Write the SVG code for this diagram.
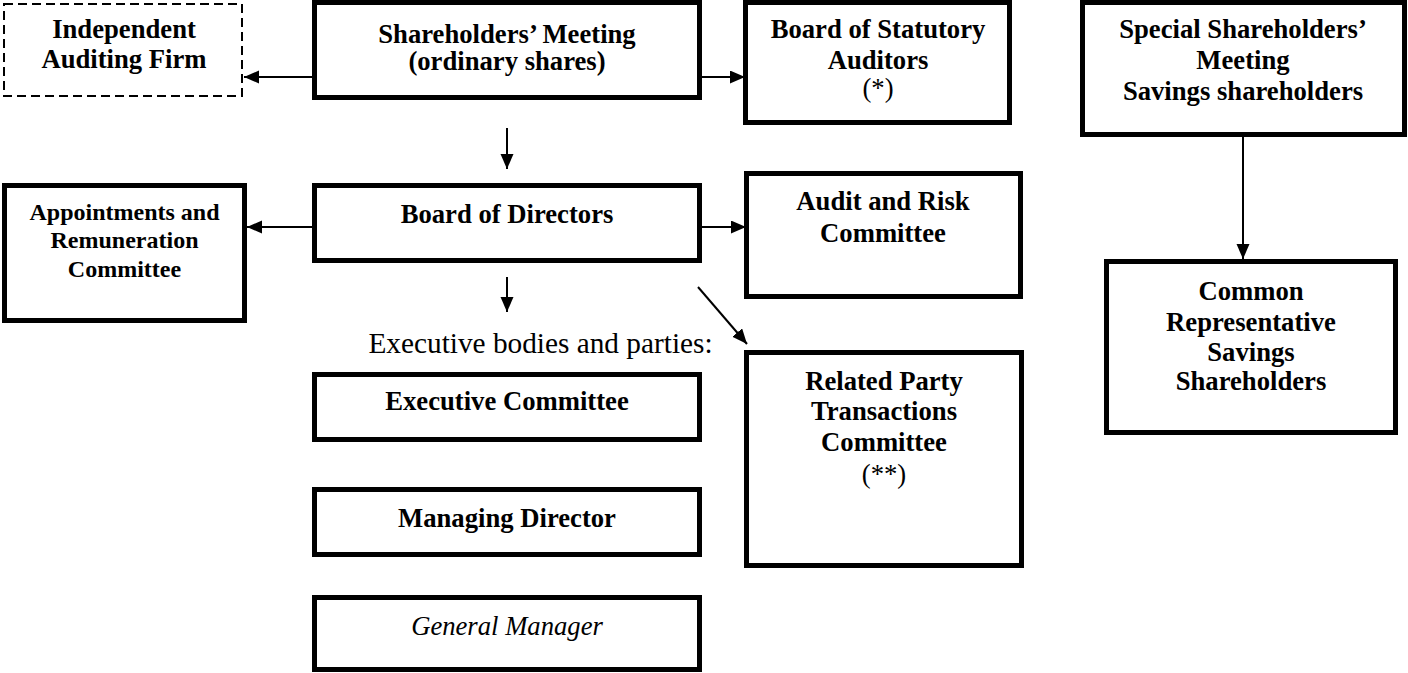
<svg xmlns="http://www.w3.org/2000/svg" width="1408" height="673" viewBox="0 0 1408 673">
  <defs>
    <style>
      .box { fill: #ffffff; stroke: #000000; stroke-width: 5; }
      .dashed { fill: #ffffff; stroke: #000000; stroke-width: 2; stroke-dasharray: 9 5; }
      .conn { stroke: #000000; stroke-width: 2; fill: none; marker-end: url(#arrow); }
      text { font-family: "Liberation Serif", "Times New Roman", serif; fill: #000000; text-anchor: middle; }
      .b { font-weight: bold; font-size: 26.67px; }
      .bs { font-weight: bold; font-size: 24px; }
      .r { font-weight: normal; font-size: 26.67px; }
      .lbl { font-weight: normal; font-size: 29.3px; }
      .it { font-style: italic; font-size: 26.67px; }
    </style>
    <marker id="arrow" markerUnits="userSpaceOnUse" markerWidth="16" markerHeight="14" refX="15" refY="6.5" orient="auto">
      <path d="M0,0 L15,6.5 L0,13 Z" fill="#000000"/>
    </marker>
  </defs>
  <rect width="1408" height="673" fill="#ffffff"/>

  <!-- connectors -->
  <g id="connectors">
    <line class="conn" x1="312" y1="77" x2="244" y2="77"/>
    <line class="conn" x1="702" y1="77" x2="745" y2="77"/>
    <line class="conn" x1="507" y1="128" x2="507" y2="169"/>
    <line class="conn" x1="312" y1="227" x2="247" y2="227"/>
    <line class="conn" x1="702" y1="227" x2="746" y2="227"/>
    <line class="conn" x1="507" y1="277" x2="507" y2="312"/>
    <line class="conn" x1="698" y1="287" x2="747" y2="344"/>
    <line class="conn" x1="1243" y1="137" x2="1243" y2="259"/>
  </g>

  <g id="independent-auditing-firm">
    <rect class="dashed" x="4" y="4" width="238" height="92"/>
    <text class="b" x="124" y="38">Independent</text>
    <text class="b" x="124" y="68">Auditing Firm</text>
  </g>

  <g id="shareholders-meeting">
    <rect class="box" x="314.5" y="2.5" width="385" height="95"/>
    <text class="b" x="507" y="43">Shareholders’ Meeting</text>
    <text class="b" x="507" y="70">(ordinary shares)</text>
  </g>

  <g id="statutory-auditors">
    <rect class="box" x="745.5" y="2.5" width="264" height="120"/>
    <text class="b" x="878" y="38">Board of Statutory</text>
    <text class="b" x="878" y="69">Auditors</text>
    <text class="r" x="878" y="97">(*)</text>
  </g>

  <g id="special-shareholders-meeting">
    <rect class="box" x="1082.5" y="2.5" width="322" height="132"/>
    <text class="b" x="1243" y="38">Special Shareholders’</text>
    <text class="b" x="1243" y="69">Meeting</text>
    <text class="b" x="1243" y="100">Savings shareholders</text>
  </g>

  <g id="appointments-remuneration">
    <rect class="box" x="4.5" y="185.5" width="240" height="135"/>
    <text class="bs" x="124.5" y="220">Appointments and</text>
    <text class="bs" x="124.5" y="248">Remuneration</text>
    <text class="bs" x="124.5" y="277">Committee</text>
  </g>

  <g id="board-of-directors">
    <rect class="box" x="314.5" y="185.5" width="385" height="75"/>
    <text class="b" x="507" y="223">Board of Directors</text>
  </g>

  <g id="audit-risk-committee">
    <rect class="box" x="746.5" y="173.5" width="274" height="123"/>
    <text class="b" x="883" y="210">Audit and Risk</text>
    <text class="b" x="883" y="242">Committee</text>
  </g>

  <g id="common-representative">
    <rect class="box" x="1106.5" y="261.5" width="289" height="171"/>
    <text class="b" x="1251" y="300">Common</text>
    <text class="b" x="1251" y="331">Representative</text>
    <text class="b" x="1251" y="361">Savings</text>
    <text class="b" x="1251" y="390">Shareholders</text>
  </g>

  <g id="executive-bodies-label">
    <text class="lbl" x="540.5" y="353">Executive bodies and parties:</text>
  </g>

  <g id="executive-committee">
    <rect class="box" x="314.5" y="374.5" width="385" height="65"/>
    <text class="b" x="507" y="410">Executive Committee</text>
  </g>

  <g id="related-party-committee">
    <rect class="box" x="746.5" y="352.5" width="275" height="213"/>
    <text class="b" x="884" y="390">Related Party</text>
    <text class="b" x="884" y="420">Transactions</text>
    <text class="b" x="884" y="451">Committee</text>
    <text class="r" x="884" y="483">(**)</text>
  </g>

  <g id="managing-director">
    <rect class="box" x="314.5" y="489.5" width="385" height="65"/>
    <text class="b" x="507" y="527">Managing Director</text>
  </g>

  <g id="general-manager">
    <rect class="box" x="314.5" y="597.5" width="385" height="72"/>
    <text class="it" x="507" y="635">General Manager</text>
  </g>
</svg>
